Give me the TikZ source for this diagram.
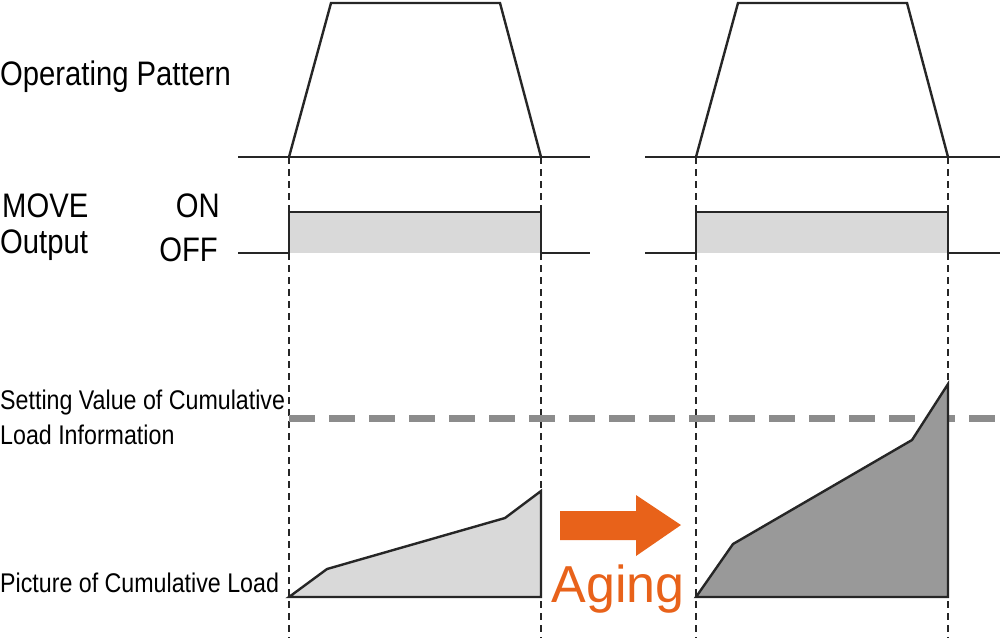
\documentclass[tikz,border=0pt]{standalone}
\usepackage{fontspec}
\setmainfont{Liberation Sans}[FakeStretch=0.86]
\newfontfamily\agingfont{Liberation Sans}
\definecolor{agecol}{HTML}{E8621A}
\begin{document}
\begin{tikzpicture}[x=1pt,y=-1pt,
  sig/.style={line width=2.4pt,black!85,line join=miter},
  vdash/.style={line width=1.2pt,black!85,dash pattern=on 7pt off 5pt},
  lbl/.style={anchor=west,inner sep=0pt,font=\fontsize{#1}{#1}\selectfont},
  lbl/.default=34]
\useasboundingbox (0,0) rectangle (1000,638);
% vertical dashed
\foreach \x/\n in {289/a,541/b,696/c,948/d}{
  \coordinate (t\n) at (\x,157); \coordinate (b\n) at (\x,638);
  \draw[vdash] (t\n) -- (b\n);}
% MOVE fills
\fill[black!15] (289,212) rectangle (541,253);
\fill[black!15] (696,212) rectangle (948,253);
% operating pattern
\draw[sig] (238,157) -- (590,157);
\draw[sig] (289,157) -- (331,3) -- (500,3) -- (541,157);
\draw[sig] (645,157) -- (1000,157);
\draw[sig] (696,157) -- (738,3) -- (907,3) -- (948,157);
% MOVE output
\draw[sig] (238,253) -- (289,253) -- (289,212) -- (541,212) -- (541,253) -- (590,253);
\draw[sig] (645,253) -- (696,253) -- (696,212) -- (948,212) -- (948,253) -- (1000,253);
% setting value
\draw[line width=7pt,black!45,dash pattern=on 26pt off 14pt] (289,418) -- (1000,418);
% cumulative load
\draw[sig,fill=black!15] (289,597) -- (327,569) -- (505,518) -- (541,491) -- (541,597) -- cycle;
\draw[sig,fill=black!40] (696,597) -- (733,544) -- (912,440) -- (948,384) -- (948,597) -- cycle;
% arrow
\fill[agecol] (560,511) -- (636,511) -- (636,495) -- (681,525) -- (636,556) -- (636,540) -- (560,540) -- cycle;
\node[inner sep=0pt,text=agecol,font=\agingfont\fontsize{52}{52}\selectfont] (aging) at (618,589) {Aging};
% labels
\node[lbl] (op) at (0,77) {Operating Pattern};
\node[lbl] (mv) at (2,206) {MOVE};
\node[lbl] (ou) at (0,245) {Output};
\node[lbl,anchor=east] (on) at (220,206) {ON};
\node[lbl,anchor=east] (off) at (218,250) {OFF};
\node[lbl=27] (sv1) at (0,403) {Setting Value of Cumulative};
\node[lbl=27] (sv2) at (0,435) {Load Information};
\node[lbl=27] (pc) at (0,583) {Picture of Cumulative Load};
\end{tikzpicture}
\end{document}
